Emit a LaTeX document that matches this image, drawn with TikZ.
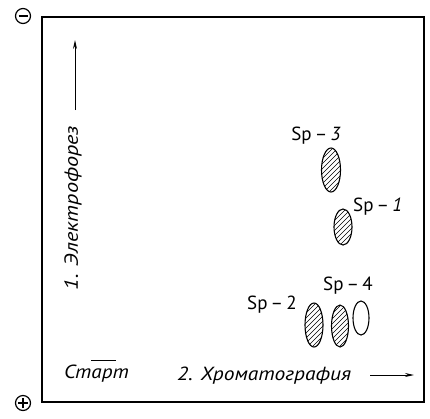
\documentclass[tikz,border=0pt]{standalone}
\usepackage{fontspec}
\setmainfont{PT Sans}
\usetikzlibrary{arrows.meta,shapes.geometric}
\tikzset{
  lbl/.style={inner sep=0pt, font=\fontsize{19}{19}\selectfont\itshape},
  splbl/.style={inner sep=0pt, font=\fontsize{19}{19}\selectfont},
  spot/.style={ellipse, draw, line width=1.1pt, inner sep=0pt},
  hatched/.style={spot, path picture={
     \foreach \i in {-80,-75,...,0}
       \draw[line width=0.6pt] ([xshift=\i pt, yshift=-40pt]path picture bounding box.center) -- ++(80pt,80pt);}},
  arr/.style={line width=1pt, -{Stealth[length=9pt,width=4pt]}},
  pole/.style={circle, draw, line width=1.2pt, minimum size=15pt, inner sep=0pt}
}
\begin{document}
\begin{tikzpicture}[x=1pt,y=-1pt]
\useasboundingbox (0,0) rectangle (430,418);
% frame
\draw[line width=1.3pt] (42,17) rectangle (424,402);
% poles
\node[pole] (minus) at (23,16) {};
\draw[line width=2.2pt] ([xshift=-4.5pt]minus.center) -- ([xshift=4.5pt]minus.center);
\node[pole] (plus) at (23,403) {};
\draw[line width=1.7pt] ([xshift=-5pt]plus.center) -- ([xshift=5pt]plus.center);
\draw[line width=1.7pt] ([yshift=-5pt]plus.center) -- ([yshift=5pt]plus.center);
% axis labels
\node[lbl, rotate=90] (ep) at (73,208) {\scalebox{1.17}[1]{1. Электрофорез}};
\coordinate (va0) at (75,110);
\coordinate (va1) at (75,40);
\draw[arr] (va0) -- (va1);
\node[lbl, anchor=base west] (start) at (64,378) {\scalebox{1.12}[1]{Старт}};
\draw[line width=0.9pt] (91,360) -- (116,360);
\node[lbl, anchor=base west] (chr) at (177,380) {\scalebox{1.13}[1]{2. Хроматография}};
\coordinate (ha0) at (370,375);
\coordinate (ha1) at (414,375);
\draw[arr] (ha0) -- (ha1);
% spots
\node[hatched, minimum width=19pt, minimum height=44pt] (s3) at (331,170) {};
\node[hatched, minimum width=18pt, minimum height=36pt] (s1) at (343,227) {};
\node[hatched, minimum width=18pt, minimum height=44pt] (s2) at (314,325) {};
\node[hatched, minimum width=17pt, minimum height=42pt] (s4) at (340,326) {};
\node[spot, minimum width=16pt, minimum height=34pt] (s5) at (361,318) {};
% spot labels
\node[splbl] (l3) at (316,136) {Sp\,–\,\textit{3}};
\node[splbl, anchor=west] (l1) at (353,207) {Sp\,–\,\textit{1}};
\node[splbl] (l4) at (348,286) {Sp\,–\,4};
\node[splbl] (l2) at (272,305) {Sp\,–\,2};
\end{tikzpicture}
\end{document}
